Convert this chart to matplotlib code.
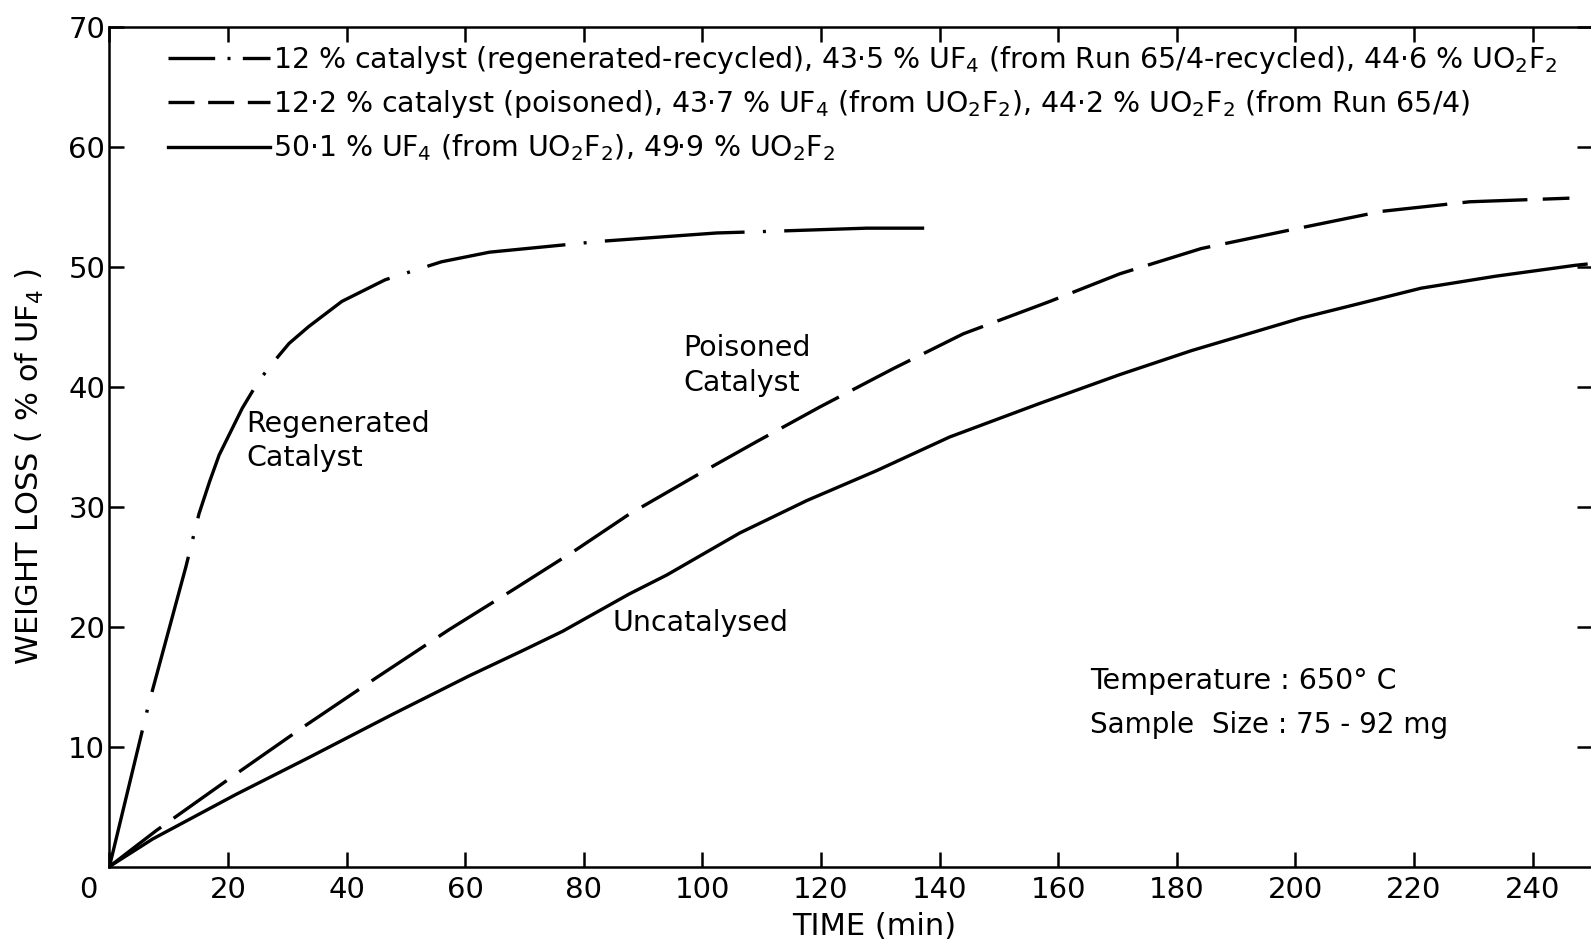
import matplotlib
matplotlib.use("Agg")
import matplotlib.pyplot as plt
from matplotlib.lines import Line2D
from matplotlib.transforms import ScaledTranslation

plt.rcParams["font.family"] = ["DejaVu Sans"]
plt.rcParams["mathtext.default"] = "regular"

# regenerated-recycled catalyst (dash-dot)
regen_t = [0, 6.6, 12.9, 15.1, 16.9, 18.5, 22.4, 25.2, 28.6, 30.3, 33.6, 39.2, 46.5,
           56, 64.1, 82.7, 102.4, 109.1, 127.7, 139.5]
regen_w = [0, 13.5, 25.0, 29.4, 32.1, 34.3, 38.2, 40.5, 42.6, 43.6, 45.0, 47.1, 48.9,
           50.4, 51.2, 52.1, 52.8, 52.9, 53.2, 53.2]

# poisoned catalyst (dashed)
pois_t = [0, 7.9, 21.3, 32.6, 44.9, 57.3, 68.5, 78.7, 87.6, 99.0, 109.1, 119.8, 132.2,
          144.0, 158.6, 170.4, 184.1, 199.6, 214.5, 229.4, 246.2]
pois_w = [0, 3.0, 7.7, 11.6, 15.7, 19.75, 23.2, 26.4, 29.35, 32.6, 35.4, 38.3, 41.5,
          44.4, 47.1, 49.4, 51.5, 53.1, 54.6, 55.4, 55.7]

# uncatalysed (solid)
unc_t = [0, 7.3, 21.3, 33.7, 47.8, 60.7, 69.7, 76.4, 87.6, 94.0, 106.3, 117.6, 129.4,
         141.7, 156.9, 170.4, 182.5, 200.9, 221.2, 233.8, 247.1, 249]
unc_w = [0, 2.3, 6.0, 9.1, 12.7, 15.9, 18.0, 19.6, 22.7, 24.3, 27.8, 30.5, 33.0,
         35.8, 38.6, 41.0, 43.0, 45.7, 48.2, 49.2, 50.1, 50.2]

labels = [
    "12 % catalyst (regenerated-recycled), 43·5 % UF$_4$ (from Run 65/4-recycled), 44·6 % UO$_2$F$_2$",
    "12·2 % catalyst (poisoned), 43·7 % UF$_4$ (from UO$_2$F$_2$), 44·2 % UO$_2$F$_2$ (from Run 65/4)",
    "50·1 % UF$_4$ (from UO$_2$F$_2$), 49·9 % UO$_2$F$_2$",
]

xticks = [0, 20, 40, 60, 80, 100, 120, 140, 160, 180, 200, 220, 240]
yticks = [10, 20, 30, 40, 50, 60, 70]

fig = plt.figure(figsize=(15.91, 9.46), dpi=100)
ax = fig.add_axes([0.0688, 0.0840, 0.9318, 0.8879])

lw = 2.4
ax.plot(regen_t, regen_w, color="black", lw=lw, linestyle=(0, (42, 5.5, 0.9, 5.5)))
ax.plot(pois_t, pois_w, color="black", lw=lw, linestyle=(0, (19.5, 4.6)))
ax.plot(unc_t, unc_w, color="black", lw=lw, linestyle="-")

ax.set_xlim(0, 250)
ax.set_ylim(0, 70)
ax.set_xticks(xticks)
ax.set_yticks(yticks)
ax.tick_params(direction="in", length=11, width=1.8, top=True, right=True, labelsize=21)
ax.tick_params(axis="x", pad=7)
ax.tick_params(axis="y", pad=3)
lab0 = ax.xaxis.get_major_ticks()[0].label1
lab0.set_horizontalalignment("right")
lab0.set_transform(lab0.get_transform() + ScaledTranslation(-0.12, 0, fig.dpi_scale_trans))
for s in ax.spines.values():
    s.set_linewidth(1.8)
ax.spines["right"].set_visible(False)

ax.set_xlabel("TIME (min)", fontsize=22, va="center")
ax.xaxis.set_label_coords(0.516, -0.0715)
ax.set_ylabel("WEIGHT LOSS ( % of UF$_4$ )", fontsize=22, va="center")
ax.yaxis.set_label_coords(-0.0534, 0.476)

handles = [
    Line2D([], [], color="black", lw=lw, linestyle=(0, (14, 3.7, 0.9, 3.7))),
    Line2D([], [], color="black", lw=lw, linestyle=(0, (7.8, 4.1))),
    Line2D([], [], color="black", lw=lw, linestyle="-"),
]
ax.legend(handles, labels, loc="upper left", bbox_to_anchor=(0.0395, 0.979), frameon=False,
          fontsize=20.4, handlelength=3.6, handletextpad=0.12, labelspacing=0.43,
          borderpad=0, borderaxespad=0)

ax.text(23.1, 35.45, "Regenerated\nCatalyst", fontsize=20.5, va="center", linespacing=1.3)
ax.text(96.8, 41.75, "Poisoned\nCatalyst", fontsize=20.5, va="center", linespacing=1.3)
ax.text(84.9, 20.3, "Uncatalysed", fontsize=20.5, va="center")
ax.text(165.3, 15.5, "Temperature : 650° C", fontsize=20.5, va="center")
ax.text(165.3, 11.8, "Sample  Size : 75 - 92 mg", fontsize=20, va="center")

fig.savefig("out.png", dpi=100)
